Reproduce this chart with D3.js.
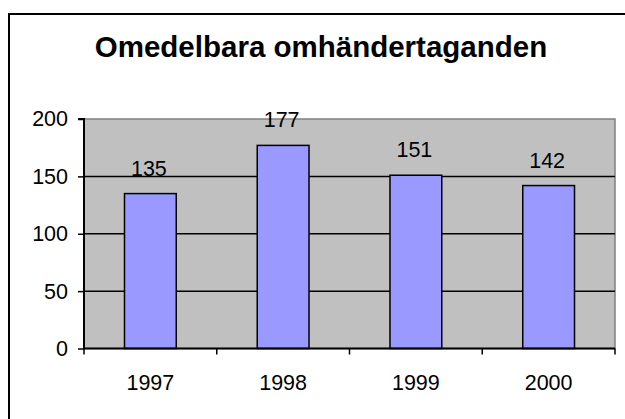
<!DOCTYPE html>
<html>
<head>
<meta charset="utf-8">
<script src="https://cdn.jsdelivr.net/npm/d3@7"></script>
<style>
  html, body { margin: 0; padding: 0; background: #fff; overflow: hidden; }
  svg { display: block; font-family: "Liberation Sans", Arial, sans-serif; }
</style>
</head>
<body>
<svg id="chart" width="625" height="419"></svg>
<script>
const title = "Omedelbara omhändertaganden";
const categories = ["1997", "1998", "1999", "2000"];
const values = [135, 177, 151, 142];
const yTicks = [0, 50, 100, 150, 200];

const svg = d3.select("#chart");
const plot = { left: 84, right: 615, top: 119, bottom: 348.5 };
const labelSize = 21.5;

// outer chart border (extends past window on right/bottom)
svg.append("rect")
  .attr("x", 9).attr("y", 14).attr("width", 640).attr("height", 440)
  .attr("fill", "#fff").attr("stroke", "#000").attr("stroke-width", 2);

// title
svg.append("text")
  .attr("x", 321).attr("y", 57)
  .attr("text-anchor", "middle")
  .attr("font-size", 29.5).attr("font-weight", "bold")
  .attr("fill", "#000")
  .text(title);

const x = d3.scaleBand()
  .domain(categories)
  .range([plot.left, plot.right])
  .paddingInner(0.61)
  .paddingOuter(0.305);

const y = d3.scaleLinear()
  .domain([0, 200])
  .range([plot.bottom, plot.top]);

// plot area
svg.append("rect")
  .attr("x", plot.left).attr("y", plot.top)
  .attr("width", plot.right - plot.left).attr("height", plot.bottom - plot.top)
  .attr("fill", "#C0C0C0").attr("stroke", "#808080").attr("stroke-width", 1.5);

// gridlines
svg.append("g").selectAll("line")
  .data(yTicks.filter(d => d > 0 && d < 200))
  .join("line")
  .attr("x1", plot.left).attr("x2", plot.right)
  .attr("y1", d => y(d)).attr("y2", d => y(d))
  .attr("stroke", "#000").attr("stroke-width", 1.5);

// bars
svg.append("g").selectAll("rect")
  .data(values)
  .join("rect")
  .attr("x", (d, i) => x(categories[i]))
  .attr("y", d => y(d))
  .attr("width", x.bandwidth())
  .attr("height", d => y(0) - y(d))
  .attr("fill", "#9999FF")
  .attr("stroke", "#000").attr("stroke-width", 1.5);

// data labels
svg.append("g").selectAll("text")
  .data(values)
  .join("text")
  .attr("x", (d, i) => x(categories[i]) + x.bandwidth() / 2 - 1.5)
  .attr("y", d => y(d) - 18)
  .attr("text-anchor", "middle")
  .attr("font-size", labelSize)
  .attr("fill", "#000")
  .text(d => d);

// y axis
const yAxis = d3.axisLeft(y).tickValues(yTicks).tickSize(6).tickPadding(10);
const gy = svg.append("g").attr("transform", `translate(${plot.left},0)`).call(yAxis);
gy.select(".domain").attr("stroke", "#000").attr("stroke-width", 2).attr("d", `M-6,${plot.top}H0V${plot.bottom}`);
gy.selectAll(".tick line").attr("stroke", "#000").attr("stroke-width", 1.5);
gy.selectAll(".tick text").attr("font-size", labelSize).attr("fill", "#000")
  .attr("font-family", "'Liberation Sans', Arial, sans-serif");

// x axis with ticks at category boundaries
const boundaries = d3.range(categories.length + 1).map(i => plot.left + i * x.step());
const gx = svg.append("g");
gx.append("line")
  .attr("x1", plot.left).attr("x2", plot.right)
  .attr("y1", plot.bottom).attr("y2", plot.bottom)
  .attr("stroke", "#000").attr("stroke-width", 2);
gx.selectAll("line.tk")
  .data(boundaries)
  .join("line").attr("class", "tk")
  .attr("x1", d => d).attr("x2", d => d)
  .attr("y1", plot.bottom).attr("y2", plot.bottom + 6)
  .attr("stroke", "#000").attr("stroke-width", 1.5);
gx.selectAll("text")
  .data(categories)
  .join("text")
  .attr("x", d => x(d) + x.bandwidth() / 2)
  .attr("y", 390)
  .attr("text-anchor", "middle")
  .attr("font-size", labelSize)
  .attr("fill", "#000")
  .text(d => d);
</script>
</body>
</html>
